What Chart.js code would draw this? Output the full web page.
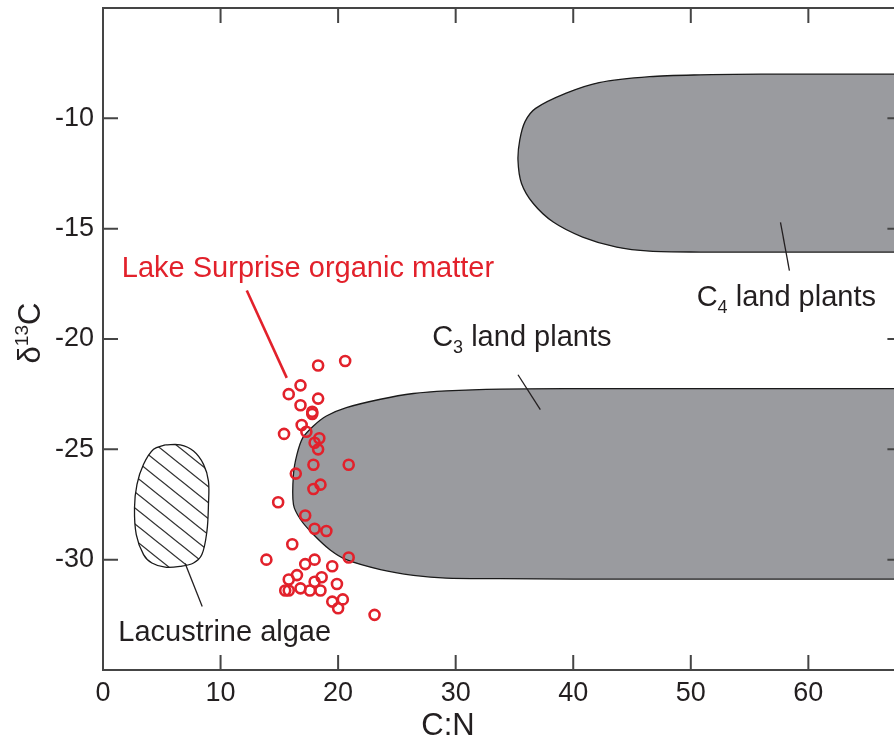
<!DOCTYPE html>
<html>
<head>
<meta charset="utf-8">
<script src="https://cdn.jsdelivr.net/npm/chart.js@4.4.1/dist/chart.umd.min.js"></script>
<style>
  html, body { margin: 0; padding: 0; overflow: hidden; background: #fff; }
  #wrap { width: 910px; height: 744px; }
</style>
</head>
<body>
<div id="wrap"><canvas id="c" width="910" height="744"></canvas></div>
<script>
// Axis ticks
const xTicks = [0, 10, 20, 30, 40, 50, 60];
const yTicks = [-30, -25, -20, -15, -10];

// Lake Surprise organic matter samples
const lakeCN = [18.3, 20.6, 15.8, 16.8, 18.3, 16.8, 17.8, 17.8, 16.9, 15.4, 17.3, 18.4, 18.0, 18.3,
                17.9, 20.9, 16.4, 18.5, 17.9, 14.9, 17.2, 18.0, 19.0, 16.1, 13.9, 20.9, 18.0, 17.2,
                19.5, 16.5, 15.8, 18.6, 18.0, 19.9, 15.8, 16.8, 17.6, 18.5, 15.5, 19.5, 20.4, 20.0, 23.1];
const lakeD13C = [-21.2, -21.0, -22.5, -22.1, -22.7, -23.0, -23.3, -23.4, -23.9, -24.3, -24.2, -24.5, -24.7, -25.0,
                  -25.7, -25.7, -26.1, -26.6, -26.8, -27.4, -28.0, -28.6, -28.7, -29.3, -30.0, -29.9, -30.0, -30.2,
                  -30.3, -30.7, -30.9, -30.8, -31.0, -31.1, -31.4, -31.3, -31.4, -31.4, -31.4, -31.9, -31.8, -32.2, -32.5];

// C4 land plant field outline (runs on past the right edge of the plot)
const c4CN   = [75, 70, 62, 56, 50.8, 46.5, 42.2, 39.4, 36.8, 35.9, 35.45, 35.3, 35.6, 36.6, 38.3, 40.8, 43.7, 46.5, 50.8, 56, 62, 70, 75, 75];
const c4D13C = [-8.0, -8.0, -8.0, -8.0, -8.03, -8.11, -8.38, -8.86, -9.55, -10.15, -10.99, -11.9, -12.95, -13.86, -14.7, -15.38, -15.84, -16.02, -16.06, -16.06, -16.06, -16.06, -16.06, -8.0];

// C3 land plant field outline (runs on past the right edge of the plot)
const c3CN   = [75, 70, 60, 50, 40, 33.8, 29.2, 26.4, 23.6, 20.7, 19.0, 17.9, 17.0, 16.5, 16.2, 16.2, 16.8, 17.9, 19.3, 20.7, 23.6, 26.4, 29.2, 33.8, 40, 50, 60, 70, 75, 75];
const c3D13C = [-22.25, -22.25, -22.25, -22.25, -22.25, -22.27, -22.35, -22.47, -22.73, -23.11, -23.49, -23.94, -24.47, -25.23, -26.14, -27.5, -28.18, -28.86, -29.55, -30.0, -30.45, -30.71, -30.84, -30.86, -30.88, -30.88, -30.88, -30.88, -30.88, -22.25];

// Lacustrine algae field outline
const algaeCN   = [5.3, 4.3, 3.45, 2.89, 2.68, 2.83, 3.45, 4.16, 5.29, 6.57, 7.7, 8.41, 8.84, 8.97, 8.97, 8.55, 7.7, 6.57, 5.3];
const algaeD13C = [-24.8, -25.0, -25.68, -26.59, -27.65, -28.86, -29.77, -30.15, -30.34, -30.3, -30.15, -29.77, -28.71, -27.5, -26.44, -25.68, -25.08, -24.8, -24.8];

const toPts = (xs, ys) => xs.map((v, i) => ({ x: v, y: ys[i] }));

const FONT = '"Liberation Sans", Arial, Helvetica, sans-serif';
const INK = '#231f20';
const RED = '#e2212b';
const GREY = '#9a9b9f';

// diagonal hatching for the algae field
function hatch() {
  const w = 20, h = 16;
  const c = document.createElement('canvas');
  c.width = w; c.height = h;
  const g = c.getContext('2d');
  g.strokeStyle = '#333';
  g.lineWidth = 1.3;
  g.beginPath();
  [[0, 0], [w, 0], [0, h]].forEach(([ox, oy]) => {
    g.moveTo(ox - w, oy - h);
    g.lineTo(ox + w, oy + h);
  });
  g.stroke();
  return g.createPattern(c, 'repeat');
}

// labels and leader lines, placed in data units
const notes = [
  { text: 'Lake Surprise organic matter', x: 1.6, y: -17.2, color: RED },
  { text: 'C', sub: '3', rest: ' land plants', x: 28.0, y: -20.3, color: INK },
  { text: 'C', sub: '4', rest: ' land plants', x: 50.5, y: -18.5, color: INK },
  { text: 'Lacustrine algae', x: 1.3, y: -33.68, color: INK }
];
const leaders = [
  { x1: 12.23, y1: -17.8, x2: 15.63, y2: -21.76, color: RED, w: 2.6 },
  { x1: 35.3, y1: -21.62, x2: 37.2, y2: -23.2, color: INK, w: 1.3 },
  { x1: 57.63, y1: -14.71, x2: 58.39, y2: -16.9, color: INK, w: 1.3 },
  { x1: 6.99, y1: -30.17, x2: 8.44, y2: -32.12, color: INK, w: 1.3 }
];

const framePlugin = {
  id: 'frame',
  afterDatasetsDraw(chart) {
    const { ctx, chartArea: a, scales: { x, y } } = chart;
    ctx.save();
    // leader lines
    leaders.forEach(l => {
      ctx.beginPath();
      ctx.strokeStyle = l.color;
      ctx.lineWidth = l.w;
      ctx.moveTo(x.getPixelForValue(l.x1), y.getPixelForValue(l.y1));
      ctx.lineTo(x.getPixelForValue(l.x2), y.getPixelForValue(l.y2));
      ctx.stroke();
    });
    // labels
    ctx.textBaseline = 'alphabetic';
    ctx.textAlign = 'left';
    notes.forEach(n => {
      let px = x.getPixelForValue(n.x);
      const py = y.getPixelForValue(n.y);
      ctx.fillStyle = n.color;
      ctx.font = '29px ' + FONT;
      ctx.fillText(n.text, px, py);
      if (n.sub) {
        px += ctx.measureText(n.text).width;
        ctx.font = '18px ' + FONT;
        ctx.fillText(n.sub, px, py + 7);
        px += ctx.measureText(n.sub).width;
        ctx.font = '29px ' + FONT;
        ctx.fillText(n.rest, px, py);
      }
    });
    // frame with inward ticks
    ctx.strokeStyle = '#454545';
    ctx.lineWidth = 2;
    ctx.strokeRect(a.left, a.top, a.right - a.left, a.bottom - a.top);
    const L = 15;
    ctx.beginPath();
    xTicks.forEach(v => {
      const p = x.getPixelForValue(v);
      ctx.moveTo(p, a.bottom); ctx.lineTo(p, a.bottom - L);
      ctx.moveTo(p, a.top); ctx.lineTo(p, a.top + L);
    });
    yTicks.forEach(v => {
      const p = y.getPixelForValue(v);
      ctx.moveTo(a.left, p); ctx.lineTo(a.left + L, p);
      ctx.moveTo(a.right, p); ctx.lineTo(a.right - L, p);
    });
    ctx.stroke();

    // axis titles
    ctx.fillStyle = INK;
    ctx.font = '31px ' + FONT;
    ctx.textAlign = 'center';
    ctx.fillText('C:N', a.left + 345, 735);

    ctx.save();
    ctx.translate(40, 333);
    ctx.rotate(-Math.PI / 2);
    ctx.textAlign = 'left';
    ctx.font = '31px ' + FONT;
    const wd = ctx.measureText('δ').width;
    const wc = ctx.measureText('C').width;
    ctx.font = '19px ' + FONT;
    const w13 = ctx.measureText('13').width;
    let sx = -(wd + w13 + wc) / 2;
    ctx.font = '31px ' + FONT;
    ctx.fillText('δ', sx, 0); sx += wd;
    ctx.font = '19px ' + FONT;
    ctx.fillText('13', sx, -12); sx += w13;
    ctx.font = '31px ' + FONT;
    ctx.fillText('C', sx, 0);
    ctx.restore();

    ctx.restore();
  }
};

// keep the plot frame fixed regardless of where the end tick labels fall
const fixPad = s => { s.paddingTop = 0; s.paddingBottom = 0; s.paddingLeft = 0; s.paddingRight = 0; };

new Chart(document.getElementById('c'), {
  type: 'scatter',
  data: {
    datasets: [
      {
        label: 'Lake Surprise organic matter',
        data: toPts(lakeCN, lakeD13C),
        pointRadius: 5,
        pointBorderWidth: 2.6,
        pointBorderColor: RED,
        pointBackgroundColor: 'rgba(0,0,0,0)'
      },
      {
        label: 'C4 land plants',
        data: toPts(c4CN, c4D13C),
        showLine: true, fill: 'shape', tension: 0.3,
        pointRadius: 0, borderColor: '#1a1a1a', borderWidth: 1.3, backgroundColor: GREY
      },
      {
        label: 'C3 land plants',
        data: toPts(c3CN, c3D13C),
        showLine: true, fill: 'shape', tension: 0.3,
        pointRadius: 0, borderColor: '#1a1a1a', borderWidth: 1.3, backgroundColor: GREY
      },
      {
        label: 'Lacustrine algae',
        data: toPts(algaeCN, algaeD13C),
        showLine: true, fill: 'shape', tension: 0.35,
        pointRadius: 0, borderColor: '#1a1a1a', borderWidth: 1.3, backgroundColor: hatch()
      }
    ]
  },
  options: {
    responsive: false,
    animation: false,
    events: [],
    layout: { padding: { top: 8, right: 7, left: 0, bottom: 0 } },
    plugins: { legend: { display: false }, tooltip: { enabled: false } },
    scales: {
      x: {
        type: 'linear', min: 0, max: 68,
        grid: { display: false, drawTicks: false },
        border: { display: false },
        afterBuildTicks: s => { s.ticks = xTicks.map(v => ({ value: v })); },
        afterFit: s => { s.height = 74; fixPad(s); },
        ticks: { color: INK, font: { family: FONT, size: 27 }, padding: 7, maxRotation: 0 }
      },
      y: {
        type: 'linear', min: -35, max: -5,
        grid: { display: false, drawTicks: false },
        border: { display: false },
        afterBuildTicks: s => { s.ticks = yTicks.map(v => ({ value: v })); },
        afterFit: s => { s.width = 103; fixPad(s); },
        ticks: { color: INK, font: { family: FONT, size: 27 }, padding: 9 }
      }
    }
  },
  plugins: [framePlugin]
});
</script>
</body>
</html>
